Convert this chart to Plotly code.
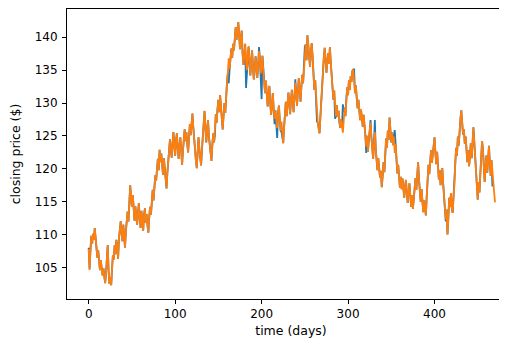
import plotly.graph_objects as go

orange_price = [
    107.8, 104.6, 107.5, 109.8, 108.6, 110.1, 109.2, 111.0, 109.5, 108.0,
    106.5, 107.6, 105.2, 104.6, 106.1, 105.0, 103.8, 104.9, 103.2, 102.6,
    104.0, 106.5, 108.4, 104.5, 102.5, 103.5, 102.3, 104.8, 106.9, 106.2,
    108.4, 107.0, 109.2, 108.1, 106.3, 109.4, 110.8, 112.0, 110.2, 109.0,
    111.5, 110.0, 108.0, 110.5, 112.2, 113.5, 112.0, 115.0, 117.5, 115.6,
    114.2, 116.0, 113.5, 112.1, 114.3, 112.8, 111.5, 113.2, 114.8, 112.5,
    111.0, 113.6, 112.2, 110.6, 112.9, 114.0, 111.8, 113.1, 111.4, 110.3,
    112.6, 114.2, 113.0, 115.5, 116.8, 115.2, 117.5, 119.0, 118.2, 120.4,
    121.5, 119.8, 122.9, 121.0, 122.3, 120.5, 119.1, 121.6, 120.0, 118.6,
    117.0, 119.4, 120.8, 122.4, 124.5, 123.0, 121.7, 123.8, 125.6, 123.4,
    122.0, 124.3, 125.4, 123.1, 121.5, 123.6, 124.8, 122.9, 120.6, 122.7,
    124.9, 126.0, 124.2, 125.6, 123.8, 122.5, 124.6, 126.8, 125.1, 127.5,
    128.4, 126.3, 124.6, 122.0, 121.3, 120.1, 122.5, 124.8, 123.0, 121.4,
    120.5, 122.9, 125.1, 127.0, 128.8, 126.2, 124.0, 125.9, 127.4, 125.0,
    123.3, 121.8, 121.2, 123.6, 125.4, 124.0, 126.5, 128.3, 127.0, 129.2,
    130.5, 128.6, 131.2, 129.4, 127.6, 126.0, 128.1, 130.0, 128.5, 131.4,
    133.2, 134.6, 136.8, 135.2, 137.5, 138.3, 136.9, 139.0, 138.0, 140.2,
    141.5, 139.6, 141.8, 142.3, 140.4, 138.2, 139.8, 141.0, 137.5, 135.8,
    137.2, 139.0, 136.4, 135.0, 137.8, 138.6, 136.0, 134.2, 136.5, 138.0,
    135.4, 133.6, 134.9, 137.1, 136.0, 133.8, 135.6, 137.9, 136.8, 134.5,
    135.8, 137.2, 134.6, 133.0, 131.5, 133.4, 130.8, 129.5, 131.2, 132.6,
    130.0, 128.2, 129.8, 131.5, 129.0, 127.6, 128.9, 127.0, 126.2, 128.4,
    129.6, 127.5, 125.8, 127.2, 125.0, 123.9, 126.3, 128.5, 130.2, 128.0,
    129.7, 131.6, 130.0, 128.3, 130.5, 132.0, 130.4, 128.6, 130.9, 133.1,
    131.4, 129.6, 131.8, 133.8, 132.0, 130.2, 132.5, 134.3, 133.0, 135.6,
    137.5, 138.9, 136.5, 140.3, 139.0, 137.2, 135.5, 137.8, 139.1, 137.0,
    134.8, 132.0, 133.5, 131.0, 128.6, 127.0, 126.1, 125.4, 127.9, 130.5,
    133.0, 135.4, 137.0, 138.4, 136.5, 134.6, 136.2, 137.6, 136.0, 138.5,
    136.2, 134.0, 132.3, 130.5, 131.9, 129.6, 128.0, 129.7, 127.9, 128.8,
    127.0, 126.2, 127.5, 126.0, 125.5, 127.4, 129.3, 128.0, 130.6, 132.4,
    131.2, 133.5, 132.0, 134.1, 133.2, 134.9, 135.1, 133.6, 131.5, 132.7,
    130.8, 129.2, 130.5, 128.6, 127.4, 129.0, 127.8, 126.4, 128.2, 126.9,
    125.2, 123.4, 125.0, 122.6, 124.5, 126.3, 127.0, 124.8, 122.9, 121.5,
    123.8, 125.6, 123.0, 121.4, 119.8, 121.6, 120.0, 118.6, 119.7, 117.2,
    118.9, 121.0, 119.5, 122.3, 124.6, 123.2, 125.8, 124.4, 127.8, 125.9,
    124.0, 125.5, 123.6, 124.9, 122.4, 123.8, 121.0, 119.3, 120.6, 118.2,
    117.1, 118.8, 116.9, 118.5, 117.0, 115.6, 117.4, 118.3, 116.2, 114.8,
    116.5, 117.8, 115.9, 114.2, 116.0, 113.9, 115.4, 117.0, 118.6, 116.8,
    119.4, 121.0, 118.5, 116.8, 115.0, 116.9, 114.6, 113.4, 115.2, 114.0,
    112.9, 115.8, 118.0, 120.6, 119.2, 121.3, 122.8, 120.9, 122.2, 123.6,
    124.8, 122.5, 120.7, 122.6, 120.0, 118.4, 119.8, 117.5, 118.6, 120.1,
    117.8, 115.9, 113.6, 112.3, 113.8, 110.0, 112.5, 115.6, 114.2, 116.3,
    114.0, 113.3, 115.8, 117.5, 121.0, 123.2, 122.0, 124.9, 123.5, 126.4,
    127.6, 128.9, 126.5, 125.2, 126.0, 123.8, 124.9, 122.4, 121.0, 122.8,
    120.4, 122.0, 123.9, 121.6, 125.0, 126.3, 124.1, 121.8, 119.6, 117.2,
    115.3, 118.0, 116.4, 119.2, 121.5, 124.2, 123.0, 120.5, 118.0, 120.2,
    122.0, 119.4, 121.6, 123.5, 120.8, 118.9, 121.3, 119.0, 117.6, 116.4,
    114.9,
]

blue_price = [
    108.0, 104.8, 107.5, 109.8, 108.6, 110.1, 109.2, 111.0, 109.5, 108.0,
    106.5, 107.6, 105.2, 104.6, 106.1, 105.0, 103.8, 104.9, 103.2, 102.6,
    104.0, 106.5, 108.4, 104.5, 102.5, 103.5, 102.3, 104.8, 106.9, 106.2,
    108.4, 107.0, 109.2, 108.1, 106.3, 109.4, 110.8, 112.0, 110.2, 109.0,
    111.5, 110.0, 108.0, 110.5, 112.2, 113.5, 112.0, 115.0, 117.5, 115.6,
    114.2, 116.0, 113.5, 112.1, 114.3, 112.8, 111.5, 113.2, 114.8, 112.5,
    111.0, 113.6, 112.2, 110.6, 112.9, 114.0, 111.8, 113.1, 111.4, 110.3,
    112.6, 114.2, 113.0, 115.5, 116.8, 115.2, 117.5, 119.0, 118.2, 120.4,
    121.5, 119.8, 122.9, 121.0, 122.3, 120.5, 119.1, 121.6, 120.0, 118.6,
    117.0, 119.4, 120.8, 122.4, 124.5, 123.0, 121.7, 123.8, 125.6, 123.4,
    122.0, 124.3, 125.4, 123.1, 121.5, 123.6, 124.8, 122.9, 120.6, 122.7,
    124.9, 126.0, 124.2, 125.6, 123.8, 122.5, 124.6, 126.8, 125.1, 127.5,
    128.4, 126.3, 124.6, 122.0, 121.3, 120.1, 122.5, 124.8, 123.0, 121.4,
    120.5, 122.9, 125.1, 127.0, 128.8, 126.2, 124.0, 125.9, 127.4, 125.0,
    123.3, 121.8, 121.2, 123.6, 125.4, 124.0, 125.1, 128.3, 127.0, 129.2,
    130.5, 128.6, 131.2, 129.4, 127.6, 126.0, 128.1, 130.0, 128.5, 131.4,
    133.2, 134.6, 133.0, 135.2, 137.5, 138.3, 136.9, 139.0, 138.0, 140.2,
    141.5, 139.6, 141.8, 142.3, 140.4, 138.2, 139.8, 141.0, 137.5, 135.8,
    137.2, 139.0, 132.3, 135.0, 137.8, 138.6, 136.0, 134.2, 136.5, 138.0,
    135.4, 133.6, 134.9, 137.1, 136.0, 133.8, 135.6, 138.5, 136.8, 134.5,
    130.6, 137.2, 134.6, 133.0, 131.5, 133.4, 130.8, 129.5, 131.2, 132.6,
    130.0, 128.2, 129.8, 131.5, 129.0, 126.8, 128.9, 127.0, 124.7, 128.4,
    129.6, 127.5, 125.8, 125.6, 125.0, 123.9, 126.3, 128.5, 130.2, 128.0,
    129.7, 131.6, 130.0, 128.3, 130.5, 132.0, 130.4, 128.6, 130.9, 133.6,
    131.4, 129.6, 131.8, 133.8, 132.0, 130.2, 132.5, 134.3, 133.0, 136.5,
    138.6, 138.9, 136.5, 140.3, 139.0, 137.2, 135.5, 137.8, 139.1, 137.0,
    134.8, 132.0, 133.5, 131.0, 127.2, 127.0, 126.1, 125.4, 127.9, 130.5,
    133.0, 135.4, 137.0, 138.4, 136.5, 134.6, 136.2, 137.6, 136.0, 138.5,
    136.2, 134.0, 132.3, 130.5, 131.9, 127.6, 128.0, 129.7, 127.9, 128.8,
    127.0, 126.2, 127.5, 126.4, 129.8, 128.6, 129.3, 128.0, 130.6, 132.4,
    131.2, 133.5, 132.0, 134.1, 133.2, 134.9, 135.1, 135.2, 131.5, 132.7,
    130.8, 129.2, 130.5, 128.6, 127.4, 129.0, 127.8, 126.4, 128.2, 126.9,
    125.2, 122.4, 125.0, 122.6, 124.5, 126.3, 127.4, 124.8, 122.9, 121.5,
    123.8, 127.4, 123.0, 121.4, 119.8, 121.6, 120.0, 118.6, 119.7, 117.2,
    118.9, 121.0, 119.5, 122.3, 124.6, 123.2, 125.8, 124.4, 127.8, 125.9,
    124.0, 125.5, 123.6, 124.9, 125.9, 123.8, 121.0, 119.3, 120.6, 118.2,
    117.1, 118.8, 116.9, 118.5, 117.0, 115.6, 117.4, 118.3, 116.2, 114.8,
    116.5, 117.8, 115.9, 114.2, 116.0, 113.9, 115.4, 117.0, 118.6, 116.8,
    119.4, 121.0, 118.5, 116.8, 115.0, 116.9, 114.6, 113.4, 115.2, 114.0,
    112.9, 115.8, 118.0, 120.6, 119.2, 121.3, 122.8, 120.9, 122.2, 123.6,
    124.8, 122.5, 120.7, 122.6, 120.0, 118.4, 119.8, 117.5, 118.6, 120.1,
    117.8, 115.9, 113.6, 112.0, 113.8, 110.0, 112.5, 115.6, 114.2, 116.3,
    114.0, 113.3, 115.8, 119.0, 121.0, 123.2, 122.0, 124.9, 123.5, 126.4,
    127.6, 128.9, 126.5, 125.2, 126.0, 123.8, 124.9, 122.4, 121.0, 122.8,
    120.4, 122.0, 123.9, 121.6, 125.0, 126.3, 124.1, 121.8, 119.6, 117.2,
    115.3, 118.0, 116.4, 119.2, 121.5, 124.2, 123.0, 120.5, 118.0, 120.2,
    122.0, 119.4, 121.6, 123.5, 120.8, 118.9, 121.3, 117.3,
]

x_ticks = [0, 100, 200, 300, 400]
y_ticks = [105, 110, 115, 120, 125, 130, 135, 140]

blue_days = list(range(len(blue_price)))
orange_days = list(range(len(orange_price)))

fig = go.Figure()
fig.add_trace(go.Scatter(x=blue_days, y=blue_price, mode="lines",
                         line=dict(color="#1f77b4", width=1.8), showlegend=False))
fig.add_trace(go.Scatter(x=orange_days, y=orange_price, mode="lines",
                         line=dict(color="#ff7f0e", width=1.8), showlegend=False))

# the page has an 8px body margin, so the figure is shifted by 8px right/down
fig.update_layout(
    width=507, height=343,
    margin=dict(l=59, r=0, t=1, b=52),
    paper_bgcolor="white", plot_bgcolor="white",
    font=dict(family="DejaVu Sans", size=12, color="#000000"),
    xaxis=dict(range=[-25.1, 493.1], tickvals=x_ticks, showgrid=False, zeroline=False,
               automargin=False,
               showline=True, mirror=True, linecolor="black", linewidth=1,
               ticks="outside", ticklen=4, tickcolor="black", tickwidth=1,
               title=dict(text="time (days)", font=dict(size=12.5), standoff=5)),
    yaxis=dict(range=[100.2, 144.3], tickvals=y_ticks, showgrid=False, zeroline=False,
               automargin=False,
               showline=True, mirror=False, linecolor="black", linewidth=1,
               ticks="outside", ticklen=4, tickcolor="black", tickwidth=1,
               ticklabelstandoff=2,
               title=dict(text="closing price ($)", font=dict(size=12.5), standoff=12)),
)
fig.write_html("out.html")
